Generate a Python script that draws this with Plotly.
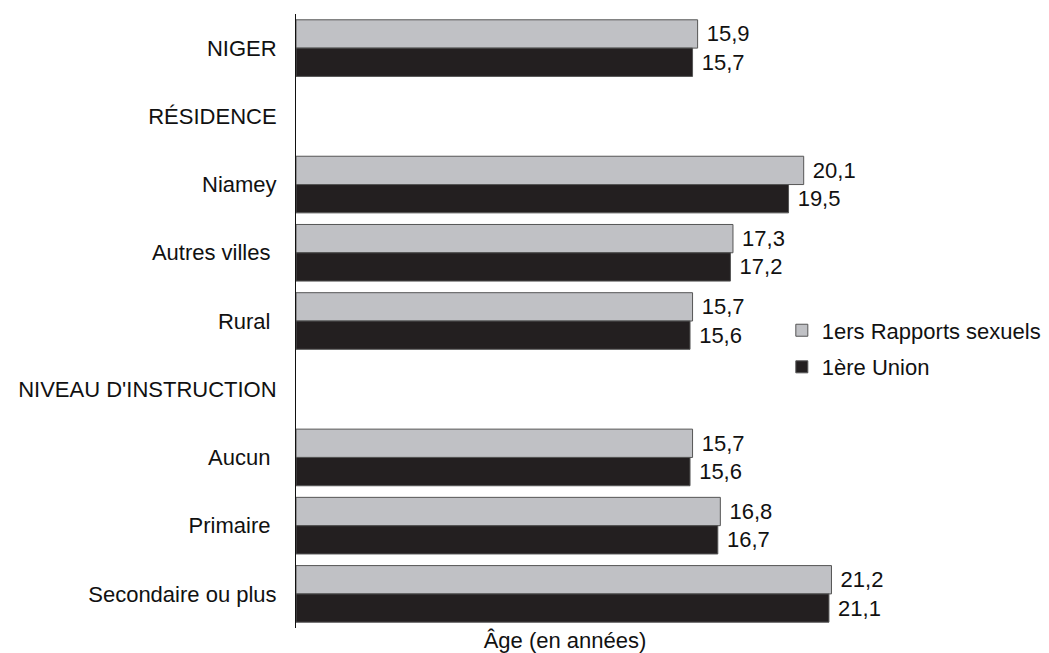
import plotly.graph_objects as go

# categories, top to bottom
categories = [
    "NIGER",
    "RÉSIDENCE",
    "Niamey",
    "Autres villes ",
    "Rural ",
    "NIVEAU D'INSTRUCTION",
    "Aucun ",
    "Primaire ",
    "Secondaire ou plus",
]

# ages (None = section header, no bar)
rapports_sexuels = [15.9, None, 20.1, 17.3, 15.7, None, 15.7, 16.8, 21.2]
premiere_union = [15.7, None, 19.5, 17.2, 15.6, None, 15.6, 16.7, 21.1]

FONT = "Liberation Sans, Arial, sans-serif"
FS = 22

fig = go.Figure()

fig.add_trace(go.Bar(
    y=categories,
    x=rapports_sexuels,
    orientation="h",
    name="1ers Rapports sexuels",
    legendgroup="a",
    marker=dict(color="#c0c1c5", line=dict(color="#555555", width=1)),
    texttemplate=" %{x:.1f}",
    textposition="outside",
    textfont=dict(size=FS, color="#111111"),
    cliponaxis=False,
))

fig.add_trace(go.Bar(
    y=categories,
    x=premiere_union,
    orientation="h",
    name="1ère Union",
    legendgroup="b",
    marker=dict(color="#231f20", line=dict(color="#555555", width=1)),
    texttemplate=" %{x:.1f}",
    textposition="outside",
    textfont=dict(size=FS, color="#111111"),
    cliponaxis=False,
))

fig.update_layout(
    width=1049,
    height=653,
    margin=dict(l=288, r=223, t=6, b=33),
    barmode="group",
    bargap=0.17,
    bargroupgap=0,
    separators=", ",
    plot_bgcolor="white",
    paper_bgcolor="white",
    font=dict(family=FONT, size=FS, color="#111111"),
    legend=dict(
        x=0.903, y=0.4545, xanchor="left", yanchor="middle",
        traceorder="grouped",
        tracegroupgap=5,
        font=dict(size=FS),
        itemwidth=30,
    ),
)

fig.update_xaxes(
    range=[0, 21.3],
    showgrid=False,
    zeroline=False,
    showticklabels=False,
    ticks="",
    showline=False,
    title=dict(text="Âge (en années)", font=dict(size=FS), standoff=4),
    automargin=False,
)

fig.update_yaxes(
    autorange="reversed",
    showgrid=False,
    showline=True,
    linecolor="#111111",
    linewidth=1,
    ticks="",
    ticklabelstandoff=14,
    tickfont=dict(size=FS),
    automargin=False,
)

fig.write_html("out.html")
